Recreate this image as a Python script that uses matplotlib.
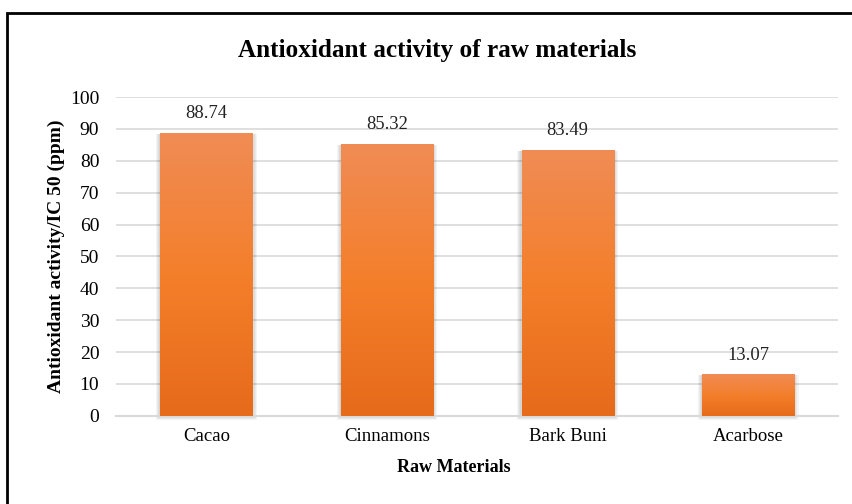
import matplotlib
matplotlib.use("Agg")
import matplotlib.pyplot as plt
import numpy as np
from matplotlib.colors import LinearSegmentedColormap
from matplotlib.patches import Rectangle

categories = ["Cacao", "Cinnamons", "Bark Buni", "Acarbose"]
values = [88.74, 85.32, 83.49, 13.07]
yticks = [0, 10, 20, 30, 40, 50, 60, 70, 80, 90, 100]

plt.rcParams['font.family'] = ['Liberation Serif', 'DejaVu Serif']

fig = plt.figure(figsize=(8.53, 5.04), dpi=100)
ax = fig.add_axes([0.136, 0.175, 0.847, 0.6325])

x = np.arange(len(categories))
width = 0.51
cmap = LinearSegmentedColormap.from_list("g", ["#e66b1a", "#f47f2b", "#f08c55"])
grad = np.linspace(0, 1, 256).reshape(-1, 1)

# soft shadows
for xi, v in zip(x, values):
    for k in range(4):
        s = 0.006 * (k + 1)
        ax.add_patch(Rectangle((xi - width / 2 - s, -0.35 * (k + 1)), width + 2 * s, v + 0.35 * (k + 1) - 0.3,
                               facecolor="black", alpha=0.045, edgecolor="none", zorder=2,
                               clip_on=False))

bars = ax.bar(x, values, width=width, color="#f47f2b", zorder=3)
for b in bars:
    im = ax.imshow(grad, cmap=cmap, aspect="auto", origin="lower",
                   extent=[b.get_x(), b.get_x() + b.get_width(), 0, b.get_height()], zorder=4)
    im.set_clip_path(b)

for xi, v in zip(x, values):
    ax.text(xi, v + 3.3, f"{v:.2f}", ha="center", va="bottom", fontsize=13.3, color="#222222")

ax.set_xlim(-0.5, len(categories) - 0.5)
ax.set_ylim(0, 100)
ax.set_yticks(yticks)
ax.set_xticks(x)
ax.set_xticklabels(categories, fontsize=13.5)
ax.tick_params(axis="y", labelsize=14, length=0, pad=12)
ax.tick_params(axis="x", length=0, pad=9)
ax.grid(axis="y", color="#d9d9d9", linewidth=1.2, zorder=0)
ax.set_axisbelow(True)
for s in ["top", "right", "left"]:
    ax.spines[s].set_visible(False)
ax.spines["bottom"].set_color("#d9d9d9")
ax.spines["bottom"].set_linewidth(1.5)

ax.set_xlabel("Raw Materials", fontsize=13, fontweight="bold")
ax.xaxis.set_label_coords(0.467, -0.135)
ax.set_ylabel("Antioxidant activity/IC 50 (ppm)", fontsize=14, fontweight="bold", labelpad=3.5)

fig.text(0.513, 0.900, "Antioxidant activity of raw materials", ha="center", va="center",
         fontsize=18.2, fontweight="bold")

fig.patches.append(Rectangle((7 / 853, -0.1), 2.0, (504 - 13) / 504 + 0.1, transform=fig.transFigure,
                             fill=False, edgecolor="black", linewidth=2))

fig.savefig("out.png", dpi=100)
